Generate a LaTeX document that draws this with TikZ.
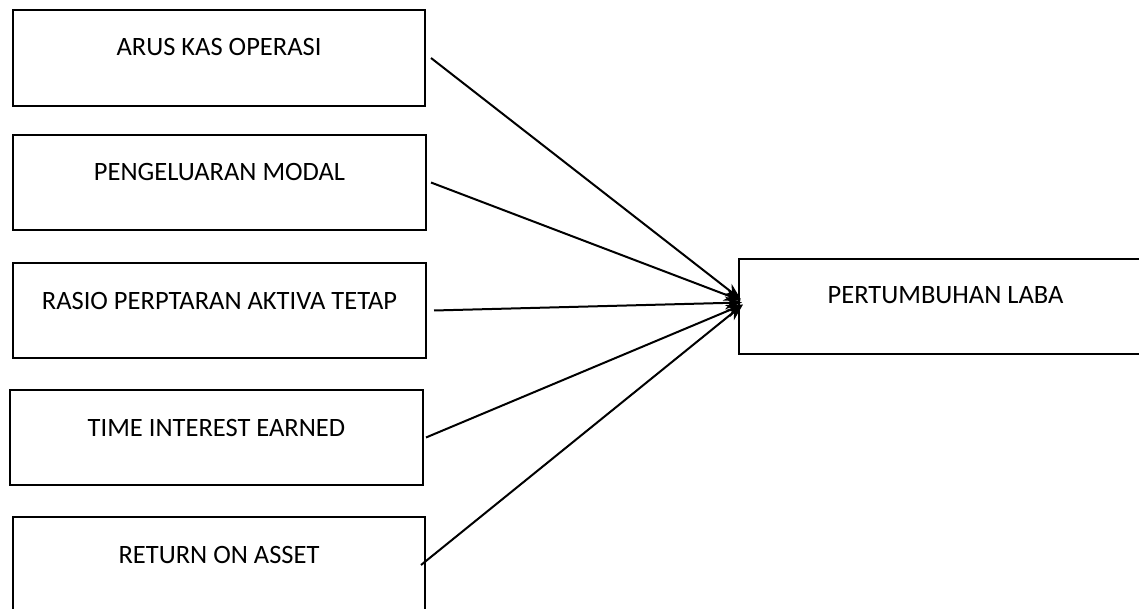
\documentclass[tikz,border=0pt]{standalone}
\usepackage{fontspec}
\setmainfont{Carlito}
\usetikzlibrary{arrows.meta}
\begin{document}
\begin{tikzpicture}[x=1pt,y=-1pt,
  box/.style={draw=black, line width=2pt, inner sep=0pt, anchor=north west,
    minimum width=412pt, text height=46pt, text depth=49pt,
    font=\fontsize{26.5}{32}\selectfont},
  conn/.style={line width=2pt, -{Stealth[length=17pt,width=13pt]}}]
\clip (0,0) rectangle (1139,609);
\fill[white] (0,0) rectangle (1139,609);
\node[box, text depth=50pt] (b1) at (12,9) {ARUS KAS OPERASI};
\node[box, minimum width=413pt] (b2) at (12,134) {PENGELUARAN MODAL};
\node[box, minimum width=413pt] (b3) at (12,262) {RASIO PERPTARAN AKTIVA TETAP};
\node[box, minimum width=413pt] (b4) at (9,389) {TIME INTEREST EARNED};
\node[box, text depth=60pt] (b5) at (12,516) {RETURN ON ASSET};
\node[box, minimum width=413pt, text height=45pt, text depth=50pt] (t) at (738,258) {PERTUMBUHAN LABA};
\draw[conn] ([shift={(5,0)}]b1.east) -- ([shift={(3,-7)}]t.west);
\draw[conn] ([shift={(4,0)}]b2.east) -- ([shift={(3,-6)}]t.west);
\draw[conn] ([shift={(7,0)}]b3.east) -- ([shift={(4,-4)}]t.west);
\draw[conn] ([shift={(2,0)}]b4.east) -- ([shift={(5,-2)}]t.west);
\draw[conn] ([shift={(-5,-5)}]b5.east) -- ([shift={(5,-2)}]t.west);
\end{tikzpicture}
\end{document}
